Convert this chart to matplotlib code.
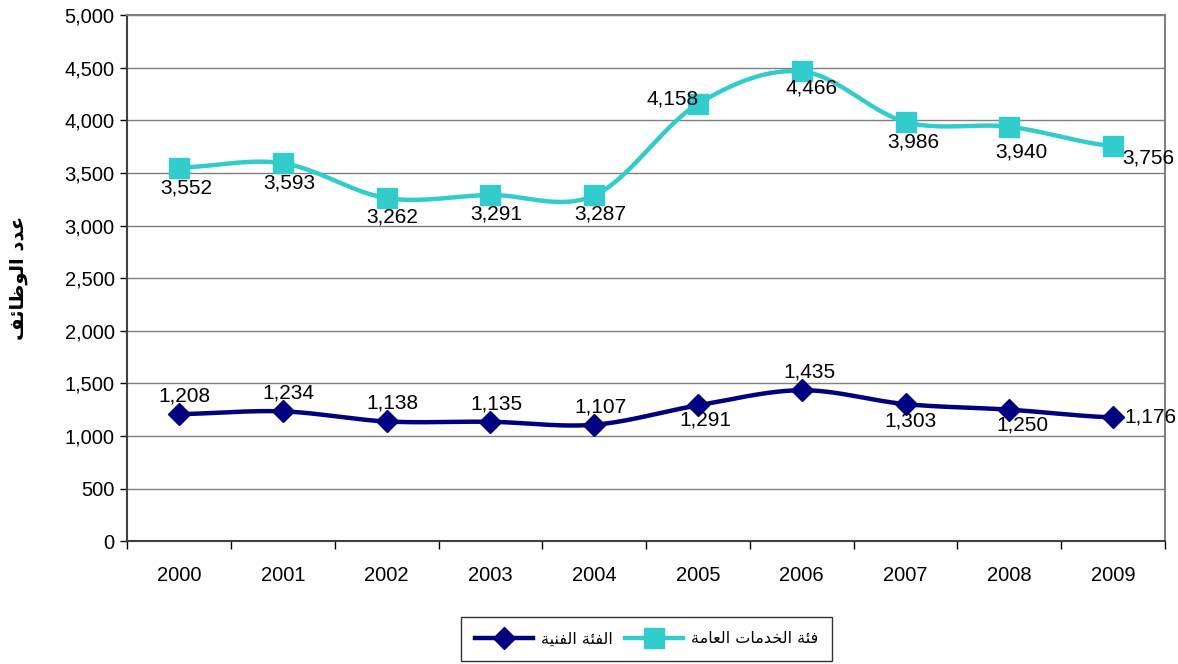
import numpy as np
import matplotlib.pyplot as plt
from matplotlib.ticker import FuncFormatter, MultipleLocator, FixedLocator

# data
years = ['2000', '2001', '2002', '2003', '2004', '2005', '2006', '2007', '2008', '2009']
general_services = [3552, 3593, 3262, 3291, 3287, 4158, 4466, 3986, 3940, 3756]
technical = [1208, 1234, 1138, 1135, 1107, 1291, 1435, 1303, 1250, 1176]

# arabic texts written in shaped presentation forms, visual order
ylabel_txt = '\uFED2\uFE8B\uFE8E\uFEC7\uFEEE\uFEDF\uFE8D \uFEA9\uFEAA\uFECB'
tech_txt = '\uFE94\uFEF4\uFEE8\uFED4\uFEDF\uFE8D \uFE94\uFE8C\uFED4\uFEDF\uFE8D'
gen_txt = ('\uFE94\uFEE3\uFE8E\uFECC\uFEDF\uFE8D \uFE95\uFE8E\uFEE3\uFEAA\uFEA8\uFEDF\uFE8D'
           ' \uFE94\uFE8C\uFED3')

# label offsets (pixels) for each data label
gen_offsets = [(7, -20), (6, -20), (6, -19), (6, -19), (6, -19),
               (-25, 5), (10, -17), (8, -20), (12, -25), (35, -12)]
tech_offsets = [(5, 18), (5, 18), (6, 18), (6, 18), (6, 18),
                (7, -15), (8, 18), (5, -17), (13, -15), (37, 0)]

NAVY = '#000080'
TEAL = '#33CCCC'


def smooth(y, n=30):
    # catmull-rom style curve through the points (like excel smoothed lines)
    y = np.asarray(y, float)
    x = np.arange(len(y), dtype=float)
    xs, ys = [], []
    for i in range(len(y) - 1):
        p0 = y[i - 1] if i > 0 else y[i]
        p3 = y[i + 2] if i + 2 < len(y) else y[i + 1]
        p1, p2 = y[i], y[i + 1]
        t = np.linspace(0, 1, n, endpoint=False)
        c1 = p1 + (p2 - p0) / 6
        c2 = p2 - (p3 - p1) / 6
        yy = (1 - t) ** 3 * p1 + 3 * (1 - t) ** 2 * t * c1 + 3 * (1 - t) * t ** 2 * c2 + t ** 3 * p2
        xs.extend(x[i] + t)
        ys.extend(yy)
    xs.append(x[-1])
    ys.append(y[-1])
    return np.array(xs), np.array(ys)


plt.rcParams['font.family'] = ['Liberation Sans', 'DejaVu Sans']

fig = plt.figure(figsize=(11.78, 6.64), dpi=100)
ax = fig.add_axes([0.108, 0.185, 0.881, 0.792])

x = np.arange(len(years))

sx, sy = smooth(technical)
ax.plot(sx, sy, color=NAVY, linewidth=3.2, zorder=3)
ax.plot(x, technical, linestyle='none', marker='D', markersize=11,
        color=NAVY, zorder=4)

sx, sy = smooth(general_services)
ax.plot(sx, sy, color=TEAL, linewidth=3.2, zorder=3)
ax.plot(x, general_services, linestyle='none', marker='s', markersize=14,
        color=TEAL, zorder=4)

# legend handles
h1, = ax.plot([], [], color=NAVY, linewidth=3.2, marker='D', markersize=11)
h2, = ax.plot([], [], color=TEAL, linewidth=3.2, marker='s', markersize=14)

for i, v in enumerate(general_services):
    ax.annotate(f'{v:,}', (i, v), xytext=gen_offsets[i], textcoords='offset pixels',
                ha='center', va='center', fontsize=15, zorder=5, annotation_clip=False)
for i, v in enumerate(technical):
    ax.annotate(f'{v:,}', (i, v), xytext=tech_offsets[i], textcoords='offset pixels',
                ha='center', va='center', fontsize=15, zorder=5, annotation_clip=False)

ax.set_xlim(-0.5, 9.5)
ax.set_ylim(0, 5000)
ax.yaxis.set_major_locator(MultipleLocator(500))
ax.yaxis.set_major_formatter(FuncFormatter(lambda v, p: f'{int(v):,}'))
ax.set_xticks(x)
ax.set_xticklabels(years)
ax.xaxis.set_minor_locator(FixedLocator(np.arange(-0.5, 10, 1)))
ax.tick_params(axis='x', which='major', length=0, pad=18, labelsize=14.5)
ax.tick_params(axis='x', which='minor', length=6, width=1, color='black')
ax.tick_params(axis='y', length=5, width=1, labelsize=14.5, pad=4)

ax.grid(axis='y', color='#808080', linewidth=1)
ax.set_axisbelow(True)
ax.spines['top'].set_color('#808080')
ax.spines['right'].set_color('#808080')
ax.spines['left'].set_color('#404040')
ax.spines['bottom'].set_color('#404040')
for s in ax.spines.values():
    s.set_linewidth(1.5)

ax.set_ylabel(ylabel_txt, fontsize=14, fontweight='bold', family='DejaVu Sans', labelpad=26)

leg = fig.legend([h1, h2], [tech_txt, gen_txt], loc='center', ncol=2,
                 bbox_to_anchor=(0.549, 0.038), frameon=True, fancybox=False,
                 edgecolor='black', handlelength=3.6, columnspacing=0.8,
                 handletextpad=0.5,
                 prop={'family': 'DejaVu Sans', 'size': 11.5}, borderpad=0.9)
leg.get_frame().set_linewidth(1)

fig.savefig('out.png', dpi=100)
